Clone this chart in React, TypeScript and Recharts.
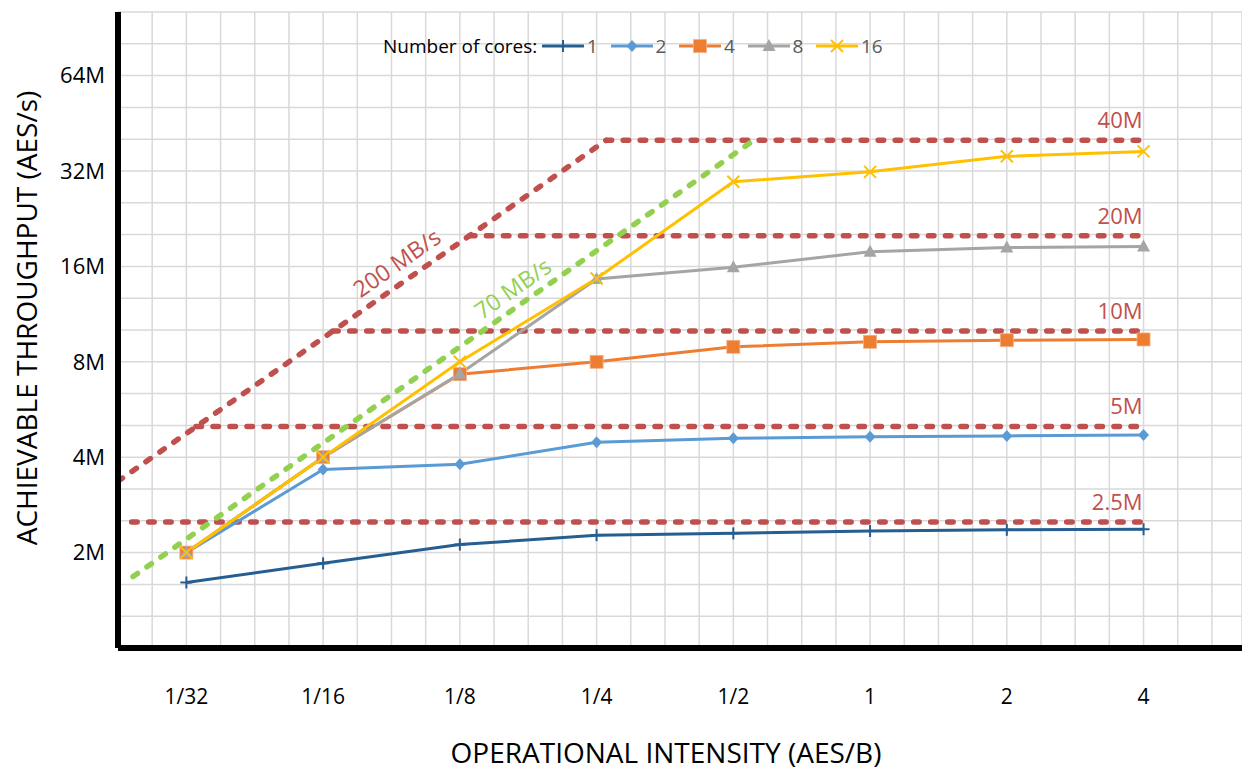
import React from "react";
import { ComposedChart, Line, XAxis, YAxis, CartesianGrid, Legend, ReferenceDot } from "recharts";

const FONT = "'Open Sans', sans-serif";

// operational intensity (AES/B), placed on a log2 axis
const intensityLabels = ["1/32", "1/16", "1/8", "1/4", "1/2", "1", "2", "4"];
const intensityLog2 = [-5, -4, -3, -2, -1, 0, 1, 2];

// achievable throughput, millions of AES/s
const cores1 = [1.61, 1.85, 2.12, 2.27, 2.3, 2.34, 2.36, 2.37];
const cores2 = [2.0, 3.66, 3.8, 4.46, 4.59, 4.64, 4.67, 4.7];
const cores4 = [2.0, 4.0, 7.31, 8.0, 8.92, 9.25, 9.36, 9.41];
const cores8 = [2.0, 4.0, 7.33, 14.6, 15.9, 17.8, 18.35, 18.5];
const cores16 = [2.0, 4.0, 8.0, 14.65, 29.6, 31.8, 35.6, 36.9];

// bandwidth roofs (x in log2 AES/B, y in M AES/s)
const roof200X = [-5.5, -1.93];
const roof200Y = [3.36, 40];
const roof70X = [-5.39, -0.88];
const roof70Y = [1.68, 39.2];

// compute ceilings
const ceilings = [2.5, 5, 10, 20, 40];
const ceilingLabels = ["2.5M", "5M", "10M", "20M", "40M"];
const ceilingStartX = [-5.4, -4.93, -3.93, -2.93, -1.93];
const ceilingEndX = 2;

// where the bandwidth labels sit along their roof
const label200X = -3.38;
const label70X = -2.54;

const xDomain = [-5.5, 2.72];
const yTop = 2 ** (20 / 3);
const xGridTicks = Array.from({ length: 33 }, (_, i) => -5.5 + i * 0.25);
const yGridTicks = Array.from({ length: 21 }, (_, k) => 2 ** (k / 3));
const yLabelTicks = [2, 4, 8, 16, 32, 64];

const RED = "#c0504d";
const GREEN = "#92d050";

const series = [
  { key: "c1", name: "1", color: "#255e91", shape: "plus", values: cores1 },
  { key: "c2", name: "2", color: "#5b9bd5", shape: "diamond", values: cores2 },
  { key: "c4", name: "4", color: "#ed7d31", shape: "square", values: cores4 },
  { key: "c8", name: "8", color: "#a5a5a5", shape: "triangle", values: cores8 },
  { key: "c16", name: "16", color: "#ffc000", shape: "cross", values: cores16 },
];

const data = intensityLog2.map((x, i) => {
  const row: any = { x };
  series.forEach((s) => (row[s.key] = s.values[i]));
  return row;
});

const toPoints = (xs: number[], ys: number[]) => xs.map((x, i) => ({ x, y: ys[i] }));

// point on a straight roof in log-log space
const onRoof = (xs: number[], ys: number[], x: number) => {
  const t = (x - xs[0]) / (xs[1] - xs[0]);
  return 2 ** (Math.log2(ys[0]) + t * (Math.log2(ys[1]) - Math.log2(ys[0])));
};

const Marker = ({ shape, cx, cy, color }: any) => {
  if (cx == null || cy == null) return null;
  switch (shape) {
    case "plus":
      return (
        <g stroke={color} strokeWidth={2}>
          <line x1={cx - 6} y1={cy} x2={cx + 6} y2={cy} />
          <line x1={cx} y1={cy - 6} x2={cx} y2={cy + 6} />
        </g>
      );
    case "diamond":
      return <path d={`M${cx},${cy - 6}L${cx + 5.5},${cy}L${cx},${cy + 6}L${cx - 5.5},${cy}Z`} fill={color} />;
    case "square":
      return <rect x={cx - 6.5} y={cy - 6.5} width={13} height={13} fill={color} stroke="#f4b183" strokeWidth={0.8} />;
    case "triangle":
      return <path d={`M${cx},${cy - 7}L${cx + 6.5},${cy + 5}L${cx - 6.5},${cy + 5}Z`} fill={color} />;
    default:
      return (
        <g stroke={color} strokeWidth={2}>
          <line x1={cx - 6} y1={cy - 6} x2={cx + 6} y2={cy + 6} />
          <line x1={cx - 6} y1={cy + 6} x2={cx + 6} y2={cy - 6} />
        </g>
      );
  }
};

const renderDot = (shape: string, color: string) => (props: any) => (
  <Marker key={`${shape}-${props.index}`} shape={shape} cx={props.cx} cy={props.cy} color={color} />
);

const renderLegend = (props: any) => {
  const payload = props.payload || [];
  const items = series.filter((s) => payload.some((p: any) => p.dataKey === s.key));
  return (
    <div style={{ display: "flex", alignItems: "center", fontFamily: FONT, fontSize: 19, lineHeight: "24px" }}>
      <span style={{ color: "#000", width: 159, display: "inline-block" }}>Number of cores:</span>
      {items.map((s) => (
        <div key={s.key} style={{ display: "flex", alignItems: "center", width: 68.5 }}>
          <svg width={42} height={16}>
            <line x1={1} y1={8} x2={41} y2={8} stroke={s.color} strokeWidth={3} strokeLinecap="round" />
            <Marker shape={s.shape} cx={21} cy={8} color={s.color} />
          </svg>
          <span style={{ color: "#595959", marginLeft: 3 }}>{s.name}</span>
        </div>
      ))}
    </div>
  );
};

const XTick = (props: any) => {
  const { x, y, payload } = props;
  const i = intensityLog2.indexOf(payload.value);
  if (i < 0) return null;
  return (
    <text x={x} y={y} dy="0.71em" textAnchor="middle" fontSize={21} fontFamily={FONT} fill="#000">
      {intensityLabels[i]}
    </text>
  );
};

const YTick = (props: any) => {
  const { x, y, payload } = props;
  if (!yLabelTicks.includes(payload.value)) return null;
  return (
    <text x={x} y={y} dy="0.355em" textAnchor="end" fontSize={22} fontFamily={FONT} fill="#000">
      {`${payload.value}M`}
    </text>
  );
};

const ceilingLabel = (text: string) => (props: any) => {
  const vb = props.viewBox || {};
  const cx = vb.x + (vb.width || 0) / 2;
  const cy = vb.y + (vb.height || 0) / 2;
  return (
    <text x={cx - 1} y={cy - 12} textAnchor="end" fill={RED} fontSize={22} fontFamily={FONT}>
      {text}
    </text>
  );
};

const slopeLabel = (text: string, color: string, dy: number) => (props: any) => {
  const vb = props.viewBox || {};
  const cx = vb.x + (vb.width || 0) / 2;
  const cy = vb.y + (vb.height || 0) / 2;
  return (
    <text
      x={cx}
      y={cy}
      dy={dy}
      transform={`rotate(-35 ${cx} ${cy})`}
      textAnchor="middle"
      fill={color}
      fontSize={23}
      fontFamily={FONT}
    >
      {text}
    </text>
  );
};

const xTitle = (props: any) => {
  const vb = props.viewBox;
  return (
    <text x={vb.x + vb.width / 2 - 14} y={vb.y + 115} textAnchor="middle" fontSize={28} fontFamily={FONT} fill="#000">
      OPERATIONAL INTENSITY (AES/B)
    </text>
  );
};

const yTitle = (props: any) => {
  const vb = props.viewBox;
  const cx = vb.x + 37;
  const cy = vb.y + vb.height / 2 - 12;
  return (
    <text x={cx} y={cy} transform={`rotate(-90 ${cx} ${cy})`} textAnchor="middle" fontSize={28} fontFamily={FONT} fill="#000">
      ACHIEVABLE THROUGHPUT (AES/s)
    </text>
  );
};

const dashed = { strokeWidth: 5.5, strokeDasharray: "5.5 11.5", strokeLinecap: "round" as const };

export default function App() {
  return (
    <div style={{ position: "absolute", left: 0, top: 0, background: "#fff", fontFamily: FONT }}>
      <ComposedChart width={1242} height={774} data={data} margin={{ top: 12, right: 0, bottom: 0, left: 0 }}>
        <CartesianGrid stroke="#d9d9d9" strokeWidth={1.5} />

        {ceilings.map((v, i) => (
          <Line
            key={`ceil-${i}`}
            data={toPoints([ceilingStartX[i], ceilingEndX], [v, v])}
            dataKey="y"
            stroke={RED}
            {...dashed}
            dot={false}
            activeDot={false}
            legendType="none"
            isAnimationActive={false}
          />
        ))}
        <Line
          data={toPoints(roof200X, roof200Y)}
          dataKey="y"
          stroke={RED}
          {...dashed}
          dot={false}
          activeDot={false}
          legendType="none"
          isAnimationActive={false}
        />
        <Line
          data={toPoints(roof70X, roof70Y)}
          dataKey="y"
          stroke={GREEN}
          {...dashed}
          dot={false}
          activeDot={false}
          legendType="none"
          isAnimationActive={false}
        />

        {series.map((s) => (
          <Line
            key={s.key}
            dataKey={s.key}
            name={s.name}
            stroke={s.color}
            strokeWidth={3}
            dot={renderDot(s.shape, s.color)}
            activeDot={false}
            isAnimationActive={false}
          />
        ))}

        {ceilings.map((v, i) => (
          <ReferenceDot key={`cl-${i}`} x={ceilingEndX} y={v} r={0} fill="none" stroke="none" label={ceilingLabel(ceilingLabels[i])} />
        ))}
        <ReferenceDot
          x={label200X}
          y={onRoof(roof200X, roof200Y, label200X)}
          r={0}
          fill="none"
          stroke="none"
          label={slopeLabel("200 MB/s", RED, -11)}
        />
        <ReferenceDot
          x={label70X}
          y={onRoof(roof70X, roof70Y, label70X)}
          r={0}
          fill="none"
          stroke="none"
          label={slopeLabel("70 MB/s", GREEN, -9)}
        />

        <XAxis
          type="number"
          dataKey="x"
          domain={xDomain}
          ticks={xGridTicks}
          interval={0}
          allowDataOverflow
          height={126}
          tickSize={0}
          tickMargin={41}
          tickLine={false}
          axisLine={{ stroke: "#000", strokeWidth: 6 }}
          tick={<XTick />}
          label={xTitle}
        />
        <YAxis
          type="number"
          scale="log"
          domain={[1, yTop]}
          ticks={yGridTicks}
          interval={0}
          allowDataOverflow
          width={118}
          tickSize={0}
          tickMargin={13}
          tickLine={false}
          axisLine={{ stroke: "#000", strokeWidth: 6 }}
          tick={<YTick />}
          label={yTitle}
        />

        <Legend
          layout="vertical"
          align="center"
          verticalAlign="middle"
          content={renderLegend}
          wrapperStyle={{ left: 383, top: 34, width: "auto" }}
        />
      </ComposedChart>
    </div>
  );
}
